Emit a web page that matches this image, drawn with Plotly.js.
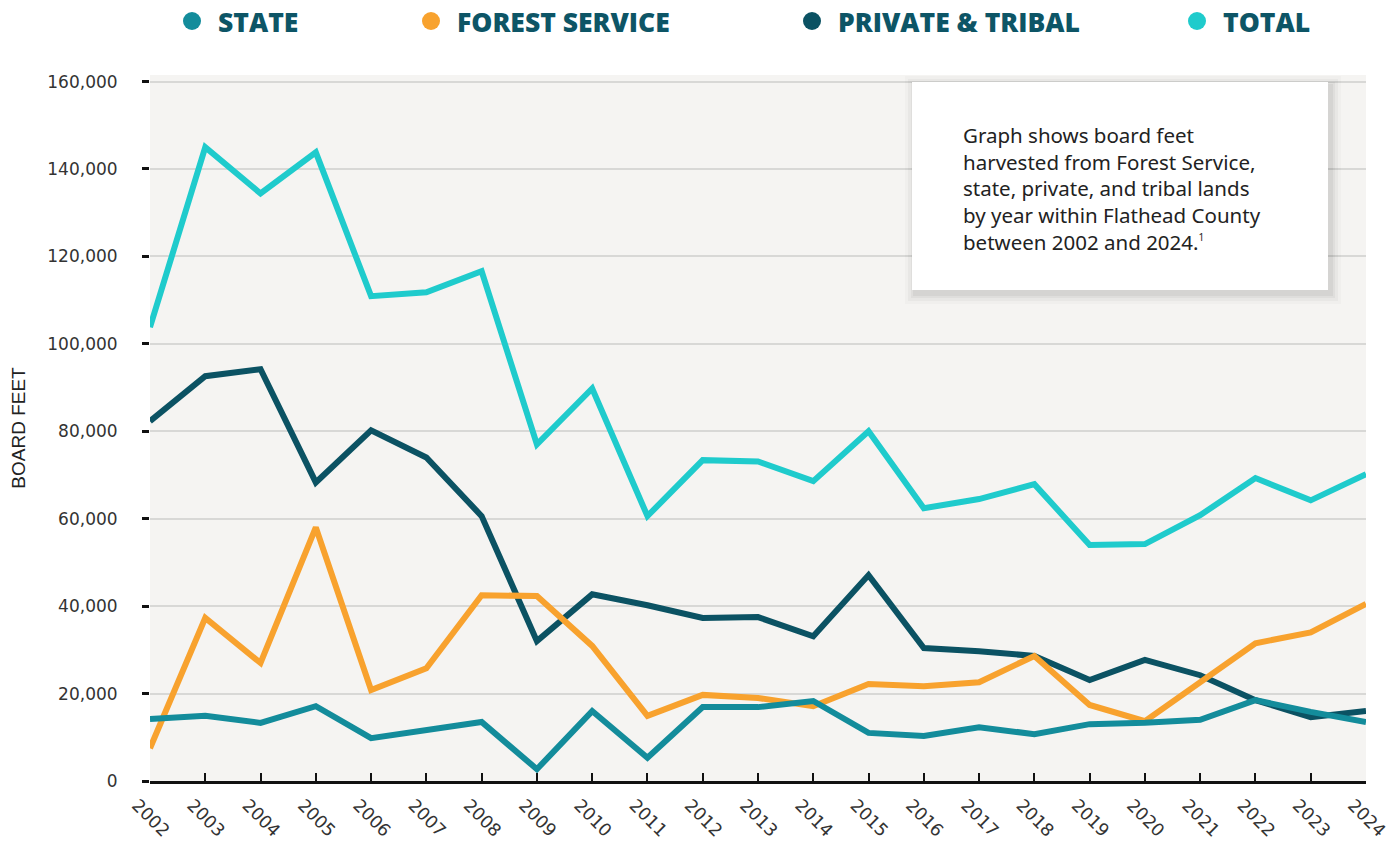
<!DOCTYPE html>
<html>
<head>
<meta charset="utf-8">
<script src="https://cdn.plot.ly/plotly-3.0.1.min.js"></script>
<style>html,body{margin:0;padding:0;background:#fff;}#chart{width:1398px;height:851px;}</style>
</head>
<body>
<div id="chart"></div>
<script>
const years = [2002,2003,2004,2005,2006,2007,2008,2009,2010,2011,2012,2013,2014,2015,2016,2017,2018,2019,2020,2021,2022,2023,2024];
const stateVals = [14200,14900,13300,17100,9800,11700,13500,2700,16000,5300,16900,16900,18300,11000,10300,12300,10700,13000,13300,14000,18500,15800,13500];
const forestVals = [7500,37300,27000,58000,20800,25800,42500,42300,30900,14900,19700,19000,17100,22200,21700,22600,28600,17400,13700,22400,31500,34000,40500];
const privateVals = [82300,92600,94200,68300,80200,74000,60600,32000,42700,40200,37300,37500,33100,47100,30400,29700,28600,23100,27700,24200,18500,14600,16000];
const totalVals = [103800,145000,134400,143800,110900,111800,116600,77000,89800,60600,73400,73100,68600,80000,62400,64500,67900,54000,54200,60800,69300,64200,70200];
const seriesNames = ["STATE","FOREST SERVICE","PRIVATE & TRIBAL","TOTAL"];
const seriesColors = ["#138c9b","#f8a22e","#0b5263","#1fcbcc"];
const yTicks = [0,20000,40000,60000,80000,100000,120000,140000,160000];
const yTickText = ["0","20,000","40,000","60,000","80,000","100,000","120,000","140,000","160,000"];
const noteText = "Graph shows board feet<br>harvested from Forest Service,<br>state, private, and tribal lands<br>by year within Flathead County<br>between 2002 and 2024.<sup><span style=\"font-size:10px\">1</span></sup>";

const allVals = [stateVals, forestVals, privateVals, totalVals];
const order = [3,2,1,0];
const traces = order.map(i => ({
  x: years, y: allVals[i], type: 'scatter', mode: 'lines', name: seriesNames[i],
  line: {color: seriesColors[i], width: 6}, showlegend: false, hoverinfo: 'x+y'
}));

const px = v => (v-150)/1216, py = v => (781-v)/706;
// custom legend
const legendX = [192, 431, 812, 1197];
const shapes = [];
const annotations = [];
legendX.forEach((cx, i) => {
  shapes.push({type:'circle', xref:'paper', yref:'paper', layer:'above',
    x0:px(cx-9), x1:px(cx+9), y0:py(30), y1:py(12),
    fillcolor: seriesColors[i], line:{width:0}});
  annotations.push({xref:'paper', yref:'paper', x:px(cx+24), y:py(22), xanchor:'left', yanchor:'middle',
    text:seriesNames[i], showarrow:false, font:{family:'Open Sans, sans-serif', size:26.5, weight:800, color:'#0d5566'}});
});
// note box with soft shadow
const bx0=912, bx1=1328, by0=82, by1=290;
[[10,'rgba(0,0,0,0.02)'],[7,'rgba(0,0,0,0.03)'],[4,'rgba(0,0,0,0.035)'],[2,'rgba(0,0,0,0.045)']].forEach(([o,c])=>{
  shapes.push({type:'rect', xref:'paper', yref:'paper', layer:'above', x0:px(bx0-o+3), x1:px(bx1+o+3), y0:py(by1+o+4), y1:py(by0-o+4), fillcolor:c, line:{width:0}});
});
shapes.push({type:'rect', xref:'paper', yref:'paper', layer:'above', x0:px(bx0), x1:px(bx1), y0:py(by1), y1:py(by0), fillcolor:'#ffffff', line:{width:0}});
annotations.push({xref:'paper', yref:'paper', x:px(961), y:py(188), xanchor:'left', yanchor:'middle', align:'left',
  text: noteText, showarrow:false, font:{family:'Noto Sans, sans-serif', size:20.5, color:'#222'}});

const layout = {
  width:1398, height:851,
  margin:{l:150, r:32, t:75, b:70},
  paper_bgcolor:'#ffffff', plot_bgcolor:'#f5f4f2',
  xaxis:{range:[2002,2024], tickmode:'array', tickvals:years, ticktext:years.map(String), tickangle:45,
    ticks:'inside', ticklen:8, tickwidth:2, tickcolor:'#111', showline:true, linecolor:'#111', linewidth:3,
    ticklabeloverflow:'allow', ticklabelshift:-13, ticklabelstandoff:4,
    showgrid:false, zeroline:false, tickfont:{family:'DejaVu Sans, sans-serif', size:17.5, color:'#333'}},
  yaxis:{range:[0,161500], tickmode:'array', tickvals:yTicks, ticktext:yTickText, ticks:'outside', ticklen:7, tickwidth:3, tickcolor:'#111',
    showline:false, showgrid:true, gridcolor:'#d8d8d6', gridwidth:2, zeroline:false, ticklabelstandoff:21,
    tickfont:{family:'DejaVu Sans, sans-serif', size:17, color:'#333'},
    title:{text:'BOARD FEET', standoff:16, font:{family:'Liberation Sans, Arial, sans-serif', size:19, color:'#222'}}},
  shapes: shapes, annotations: annotations, showlegend:false
};
Plotly.newPlot('chart', traces, layout, {displayModeBar:false, staticPlot:true});
</script>
</body>
</html>
